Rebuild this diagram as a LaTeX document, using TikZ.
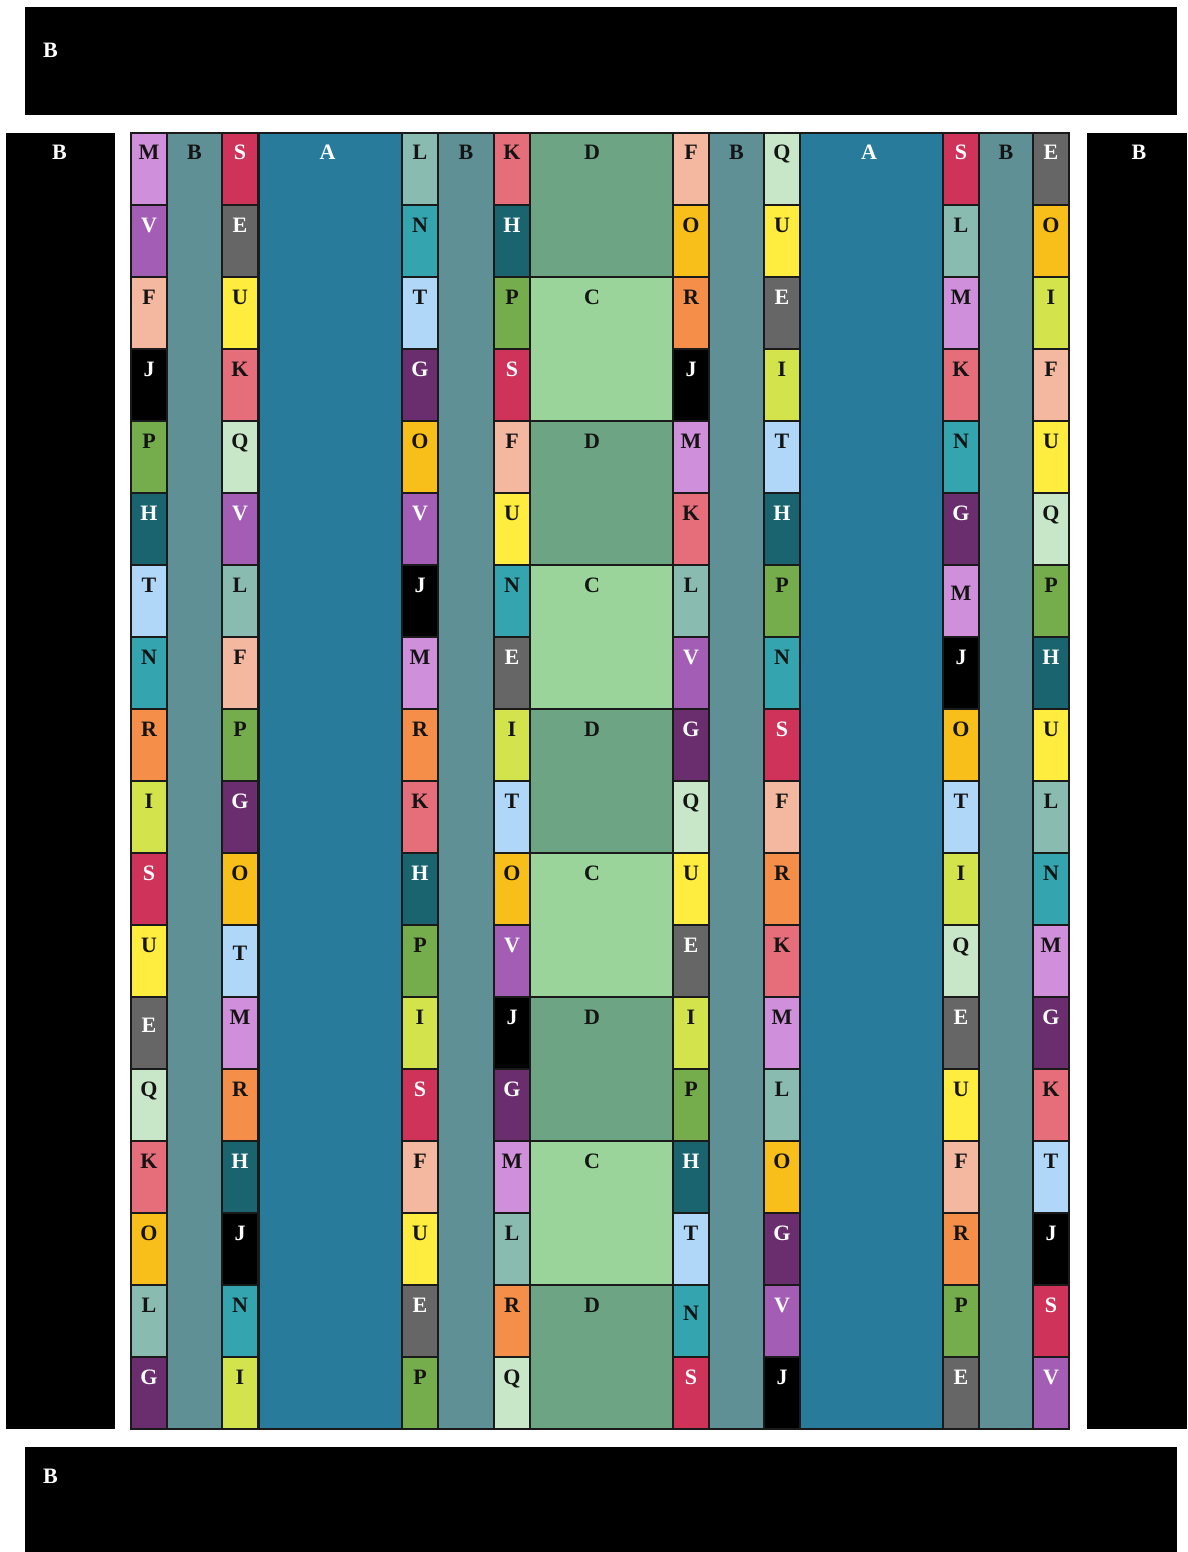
\documentclass[tikz,border=0pt]{standalone}
\usepackage{fontspec}
\setmainfont{Liberation Serif}
\definecolor{gridline}{HTML}{1A1A1A}
\definecolor{darktxt}{HTML}{141414}
\definecolor{colA}{HTML}{287B9B}
\definecolor{colB}{HTML}{5F9096}
\definecolor{colC}{HTML}{9AD49A}
\definecolor{colD}{HTML}{6DA584}
% letter colours: fill and text
\newcommand{\letterclr}[3]{\definecolor{bg#1}{HTML}{#2}\colorlet{fg#1}{#3}}
\letterclr{E}{666666}{white}
\letterclr{F}{F4B8A0}{darktxt}
\letterclr{G}{6A2D6E}{white}
\letterclr{H}{1A6470}{white}
\letterclr{I}{D3E34B}{darktxt}
\letterclr{J}{000000}{white}
\letterclr{K}{E56E7A}{darktxt}
\letterclr{L}{8ABBB0}{darktxt}
\letterclr{M}{D08FDA}{darktxt}
\letterclr{N}{34A4AE}{darktxt}
\letterclr{O}{F8BE1A}{darktxt}
\letterclr{P}{76AD4C}{darktxt}
\letterclr{Q}{C8E6C8}{darktxt}
\letterclr{R}{F48E48}{darktxt}
\letterclr{S}{CF335A}{white}
\letterclr{T}{B0D6F8}{darktxt}
\letterclr{U}{FEEC3E}{darktxt}
\letterclr{V}{A45DB5}{white}
\tikzset{
  cellbox/.style={draw=gridline,line width=1.2pt,minimum width=36pt,minimum height=72pt,inner sep=0pt},
  widebox/.style={draw=gridline,line width=1.2pt,minimum height=1296pt,inner sep=0pt},
  bar/.style={fill=black,inner sep=0pt},
  lbl/.style={anchor=base,font=\fontsize{22}{22}\selectfont\bfseries,inner sep=0pt,text=darktxt},
  barlbl/.style={lbl,text=white},
}
% labels that sit lower in their cell
\pgfkeys{/lowlbl/1-13/.initial=8,/lowlbl/2-12/.initial=8,/lowlbl/5-17/.initial=8,/lowlbl/7-7/.initial=8}
\begin{document}
\begin{tikzpicture}[x=1pt,y=-1pt]
  \useasboundingbox (0,0) rectangle (1187,1552);
  % frame bars
  \node[bar,minimum width=1152pt,minimum height=108pt] (topbar) at (601,61) {};
  \node[bar,minimum width=109pt,minimum height=1296pt] (leftbar) at (60.5,781) {};
  \node[bar,minimum width=100pt,minimum height=1296pt] (rightbar) at (1137,781) {};
  \node[bar,minimum width=1152pt,minimum height=105pt] (botbar) at (601,1499.5) {};
  \node[barlbl,anchor=base west] (topbarlbl) at (43,58) {B};
  \node[barlbl] (leftbarlbl) at (59.5,160) {B};
  \node[barlbl] (rightbarlbl) at (1139,160) {B};
  \node[barlbl,anchor=base west] (botbarlbl) at (43,1483) {B};
  % B and A columns
  \foreach \n/\xa/\xb in {1/167/222,2/438/494,3/709/764,4/979/1033}{
    \node[widebox,fill=colB,minimum width={\xb-\xa}] (bcol\n) at ({(\xa+\xb)/2},781) {};
    \node[lbl] (bcollbl\n) at ({(\xa+\xb)/2},160) {B};
  }
  \foreach \n/\xa/\xb/\xl in {1/259/402/327.5,2/800/943/869}{
    \node[widebox,fill=colA,minimum width={\xb-\xa}] (acol\n) at ({(\xa+\xb)/2},781) {};
    \node[lbl,text=white] (acollbl\n) at (\xl,160) {A};
  }
  % D / C blocks
  \foreach \k/\t in {0/D,1/C,2/D,3/C,4/D,5/C,6/D,7/C,8/D}{
    \node[cellbox,fill=col\t,minimum width=143pt,minimum height=144pt] (blk\k) at (601.5,{205+144*\k}) {};
    \node[lbl] (blklbl\k) at (592,{160+144*\k}) {\t};
  }
  % letter columns
  \foreach \c/\x/\letters in {
    1/131/{M,V,F,J,P,H,T,N,R,I,S,U,E,Q,K,O,L,G},
    2/222/{S,E,U,K,Q,V,L,F,P,G,O,T,M,R,H,J,N,I},
    3/402/{L,N,T,G,O,V,J,M,R,K,H,P,I,S,F,U,E,P},
    4/494/{K,H,P,S,F,U,N,E,I,T,O,V,J,G,M,L,R,Q},
    5/673/{F,O,R,J,M,K,L,V,G,Q,U,E,I,P,H,T,N,S},
    6/764/{Q,U,E,I,T,H,P,N,S,F,R,K,M,L,O,G,V,J},
    7/943/{S,L,M,K,N,G,M,J,O,T,I,Q,E,U,F,R,P,E},
    8/1033/{E,O,I,F,U,Q,P,H,U,L,N,M,G,K,T,J,S,V}}{
    \foreach \L [count=\r] in \letters {
      \pgfkeysifdefined{/lowlbl/\c-\r}{\def\dy{8}}{\def\dy{0}}
      \node[cellbox,fill=bg\L] (c\c-\r) at ({\x+18},{97+72*\r}) {};
      \node[lbl,text=fg\L] (t\c-\r) at ({\x+18},{88+72*\r+\dy}) {\L};
    }
  }
\end{tikzpicture}
\end{document}
